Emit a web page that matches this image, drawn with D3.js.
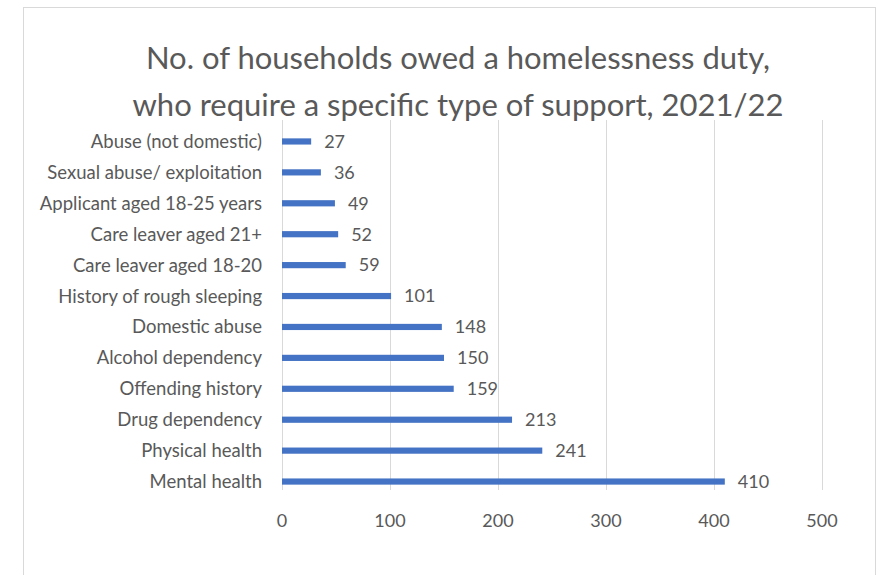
<!DOCTYPE html>
<html>
<head>
<meta charset="utf-8">
<script src="https://cdn.jsdelivr.net/npm/d3@7"></script>
<style>
  body { margin: 0; background: #fff; }
  text { font-family: Lato, "Open Sans", sans-serif; fill: #595959; }
</style>
</head>
<body>
<div id="container"></div>
<script>
const categories = [
  "Abuse (not domestic)",
  "Sexual abuse/ exploitation",
  "Applicant aged 18-25 years",
  "Care leaver aged 21+",
  "Care leaver aged 18-20",
  "History of rough sleeping",
  "Domestic abuse",
  "Alcohol dependency",
  "Offending history",
  "Drug dependency",
  "Physical health",
  "Mental health"
];
const values = [27, 36, 49, 52, 59, 101, 148, 150, 159, 213, 241, 410];
const ticks = [0, 100, 200, 300, 400, 500];
const titleLines = [
  "No. of households owed a homelessness duty,",
  "who require a specific type of support, 2021/22"
];

const w = 879;
const h = 575;
const plot = { left: 282, right: 822, top: 120, bottom: 490 };

const svg = d3.select("#container")
  .append("svg")
  .attr("width", w)
  .attr("height", h);

svg.append("rect")
  .attr("x", 23.5)
  .attr("y", 7.5)
  .attr("width", 852)
  .attr("height", 580)
  .attr("fill", "#fff")
  .attr("stroke", "#d9d9d9");

const x = d3.scaleLinear().domain([0, 500]).range([plot.left, plot.right]);
const y = d3.scaleBand().domain(categories).range([126, 497]).paddingInner(0.8).paddingOuter(0.4);

// gridlines
svg.append("g")
  .selectAll("line")
  .data(ticks)
  .enter()
  .append("line")
  .attr("x1", (d) => Math.round(x(d)) + 0.5)
  .attr("x2", (d) => Math.round(x(d)) + 0.5)
  .attr("y1", plot.top)
  .attr("y2", plot.bottom)
  .attr("stroke", "#d9d9d9")
  .attr("stroke-width", 1);

// tick labels
svg.append("g")
  .selectAll("text")
  .data(ticks)
  .enter()
  .append("text")
  .attr("x", (d) => x(d))
  .attr("y", 527)
  .attr("text-anchor", "middle")
  .style("font-size", "18px")
  .text((d) => d);

// bars
svg.append("g")
  .selectAll("rect")
  .data(values)
  .enter()
  .append("rect")
  .attr("x", x(0))
  .attr("y", (d, i) => y(categories[i]))
  .attr("width", (d) => x(d) - x(0))
  .attr("height", y.bandwidth())
  .attr("fill", "#4472c4");

// value labels
svg.append("g")
  .selectAll("text")
  .data(values)
  .enter()
  .append("text")
  .attr("x", (d) => x(d) + 13)
  .attr("y", (d, i) => y(categories[i]) + y.bandwidth() / 2)
  .attr("dy", "0.35em")
  .style("font-size", "18px")
  .text((d) => d);

// category labels
svg.append("g")
  .selectAll("text")
  .data(categories)
  .enter()
  .append("text")
  .attr("x", 262)
  .attr("y", (d) => y(d) + y.bandwidth() / 2)
  .attr("dy", "0.35em")
  .attr("text-anchor", "end")
  .style("font-size", "18.5px")
  .text((d) => d);

// title
svg.append("g")
  .selectAll("text")
  .data(titleLines)
  .enter()
  .append("text")
  .attr("x", 458)
  .attr("y", (d, i) => 69 + i * 47)
  .attr("text-anchor", "middle")
  .style("font-size", "31px")
  .text((d) => d);
</script>
</body>
</html>
